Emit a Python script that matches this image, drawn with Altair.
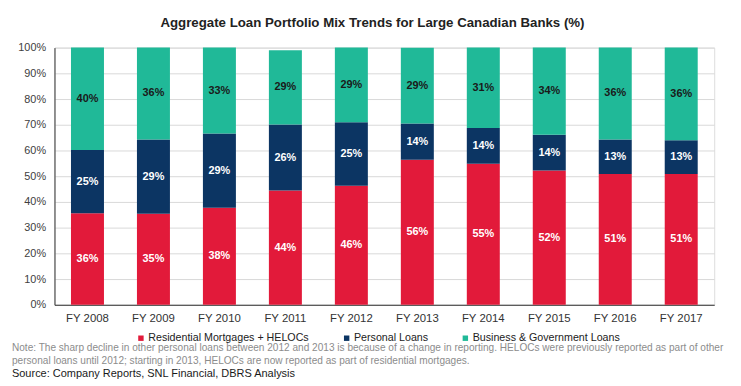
import altair as alt
import pandas as pd

years = ["FY 2008", "FY 2009", "FY 2010", "FY 2011", "FY 2012",
         "FY 2013", "FY 2014", "FY 2015", "FY 2016", "FY 2017"]
series = ["Residential Mortgages + HELOCs", "Personal Loans", "Business & Government Loans"]
residential = [35.6, 35.4, 37.7, 44.4, 46.3, 56.4, 54.8, 52.2, 50.9, 50.9]
personal = [24.6, 28.9, 28.9, 25.7, 24.7, 14.1, 13.9, 13.9, 13.4, 13.1]
business = [39.8, 35.7, 33.4, 28.9, 29.0, 29.4, 31.3, 33.9, 35.7, 36.0]
colors = ["#E21A3A", "#0C3563", "#20B998"]
text_colors = ["#FFFFFF", "#FFFFFF", "#1A1A1A"]
y_ticks = [0, 10, 20, 30, 40, 50, 60, 70, 80, 90, 100]

title = "Aggregate Loan Portfolio Mix Trends for Large Canadian Banks (%)"
note1 = ("Note: The sharp decline in other personal loans between 2012 and 2013 is because of a change in "
         "reporting. HELOCs were previously reported as part of other")
note2 = ("personal loans until 2012; starting in 2013, HELOCs are now reported as part of residential mortgages.")
source = "Source: Company Reports, SNL Financial, DBRS Analysis"

rows = []
for i, y in enumerate(years):
    for k, (s, vals) in enumerate(zip(series, [residential, personal, business])):
        v = vals[i]
        rows.append({"year": y, "series": s, "value": v, "ord": k,
                     "label": f"{round(v)}%", "tcolor": text_colors[k]})
df = pd.DataFrame(rows)

FONT = "Liberation Sans"

x_axis = alt.Axis(labelAngle=0, ticks=False, labelPadding=8, labelFontSize=11.5,
                  labelColor="#333333", labelFont=FONT, domainColor="#333333",
                  domainWidth=1, grid=False)
x_scale = alt.Scale(paddingInner=0.5, paddingOuter=0.25)
y_axis = alt.Axis(values=y_ticks, labelExpr="datum.value + '%'", labelOverlap=False,
                  ticks=False, labelPadding=9, labelFontSize=11, labelColor="#404040",
                  labelFont=FONT, grid=True, gridColor="#D9D9D9", gridWidth=1,
                  domainColor="#333333", domainWidth=1)
y_scale = alt.Scale(domain=[0, 100], nice=False)

bars = alt.Chart(df).mark_bar().encode(
    x=alt.X("year:N", sort=years, title=None, scale=x_scale, axis=x_axis),
    y=alt.Y("value:Q", stack="zero", title=None, scale=y_scale, axis=y_axis),
    color=alt.Color("series:N", sort=series,
                    scale=alt.Scale(domain=series, range=colors),
                    legend=alt.Legend(title=None, orient="none", direction="horizontal",
                                      legendX=82, legendY=288, symbolType="square",
                                      symbolSize=30, symbolStrokeWidth=0, labelLimit=400,
                                      labelFontSize=10.8, labelFont=FONT, labelColor="#222222",
                                      labelOffset=2, columnPadding=32, padding=0)),
    order=alt.Order("ord:Q"),
)

labels = alt.Chart(df).transform_stack(
    stack="value", groupby=["year"], as_=["v0", "v1"], sort=[alt.SortField("ord")]
).transform_calculate(
    mid="(datum.v0 + datum.v1) / 2"
).mark_text(font=FONT, fontSize=11, fontWeight="bold").encode(
    x=alt.X("year:N", sort=years, title=None, scale=x_scale, axis=x_axis),
    y=alt.Y("mid:Q", title=None, scale=y_scale, axis=y_axis),
    text="label:N",
    color=alt.Color("tcolor:N", scale=None),
)


def text_line(t, ypos, color, size):
    return alt.Chart(pd.DataFrame({"t": [t]})).mark_text(
        align="left", baseline="middle", font=FONT, fontSize=size, color=color
    ).encode(x=alt.value(-43), y=alt.value(ypos), text="t:N")


n1 = text_line(note1, 304, "#8C8C8C", 10.2)
n2 = text_line(note2, 317, "#8C8C8C", 10.2)
src = text_line(source, 330, "#1A1A1A", 11.1)

chart = alt.layer(bars, labels, n1, n2, src).properties(
    width=667, height=260,
    title=alt.TitleParams(title, fontSize=13.4, fontWeight="bold", font=FONT, color="#222222",
                          anchor="middle", dx=-12, offset=12),
    autosize=alt.AutoSizeParams(type="none"),
    padding={"left": 47, "top": 38, "right": 19, "bottom": 74},
).configure_view(stroke=None).configure(background="white")

chart.save("out.html", embed_options={"renderer": "svg", "actions": False})
